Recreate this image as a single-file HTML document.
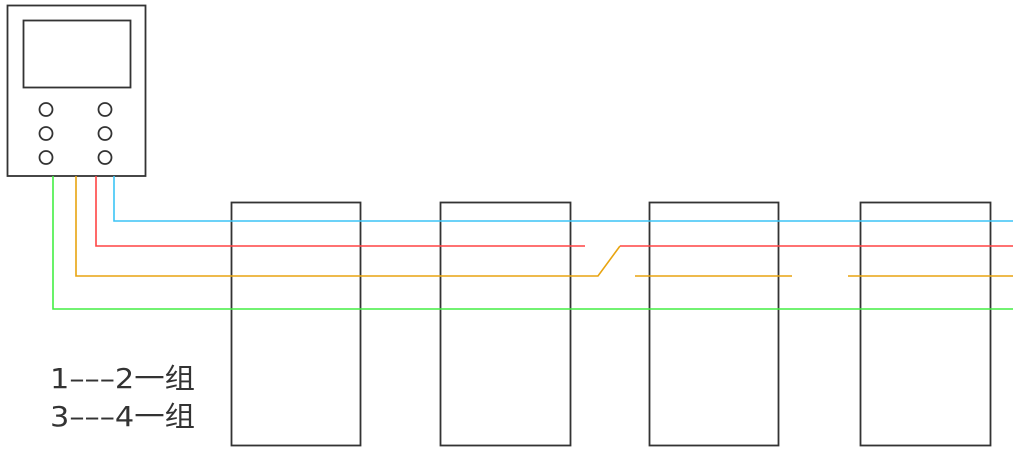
<!DOCTYPE html>
<html><head><meta charset="utf-8"><style>html,body{margin:0;padding:0;background:#fff;}svg{display:block}</style></head>
<body>
<svg width="1024" height="459" viewBox="0 0 1024 459" xmlns="http://www.w3.org/2000/svg">
<g fill="none" stroke="#333" stroke-width="1.8">
<rect x="7.5" y="5.5" width="138" height="170.5"/>
<rect x="23.5" y="20.5" width="107" height="67"/>
<circle cx="46" cy="109.5" r="6.5"/><circle cx="105" cy="109.5" r="6.5"/>
<circle cx="46" cy="133.5" r="6.5"/><circle cx="105" cy="133.5" r="6.5"/>
<circle cx="46" cy="157.5" r="6.5"/><circle cx="105" cy="157.5" r="6.5"/>
<rect x="231.5" y="202.5" width="129" height="243"/>
<rect x="440.5" y="202.5" width="130" height="243"/>
<rect x="649.5" y="202.5" width="129" height="243"/>
<rect x="860.5" y="202.5" width="130" height="243"/>
</g>
<g fill="none" stroke-width="1.6">
<polyline points="114,176 114,221 1013,221" stroke="#3cc4f5"/>
<polyline points="96,176 96,246 585,246" stroke="#f44"/>
<polyline points="620,246 1013,246" stroke="#f44"/>
<polyline points="76,176 76,276 598,276 620,246" stroke="#e8a410"/>
<line x1="635" y1="276" x2="792" y2="276" stroke="#e8a410"/>
<line x1="848" y1="276" x2="1013" y2="276" stroke="#e8a410"/>
<polyline points="53,176 53,309 1013,309" stroke="#4e4"/>
</g>
<g font-family="DejaVu Sans, Noto Sans CJK SC, sans-serif" font-size="28" font-weight="normal" fill="#333">
<text x="50" y="388" textLength="145" lengthAdjust="spacingAndGlyphs">1–––2一组</text>
<text x="50" y="426" textLength="145" lengthAdjust="spacingAndGlyphs">3–––4一组</text>
</g>
</svg>
</body></html>
